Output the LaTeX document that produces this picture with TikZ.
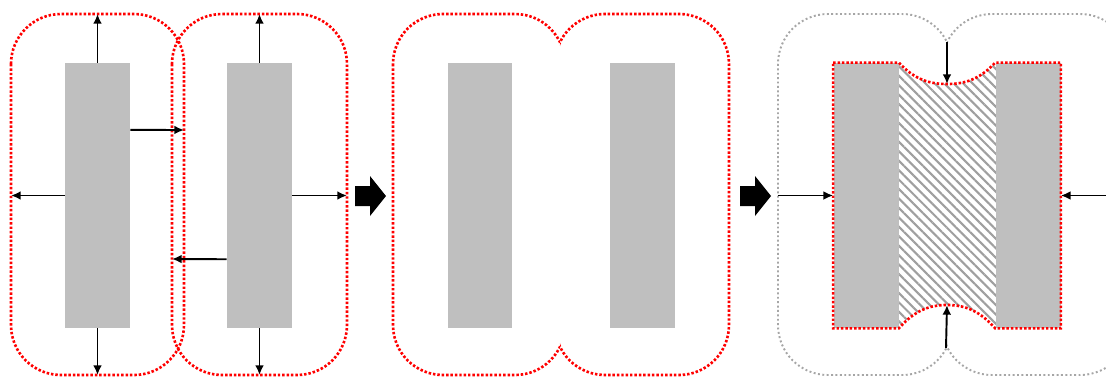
\documentclass[tikz,border=0pt]{standalone}
\usetikzlibrary{arrows.meta,calc,patterns.meta}
\begin{document}
\begin{tikzpicture}[x=0.02cm,y=-0.02cm,
  bar/.style={fill=gray!50,inner sep=0pt,minimum width=1.3cm,minimum height=5.3cm},
  reddots/.style={red,line width=1.5pt,dash pattern=on 1.4pt off 1.1pt},
  greydots/.style={gray!70,line width=1.1pt,dash pattern=on 1.1pt off 1.4pt},
  zone/.style={rounded corners=1cm},
  push/.style={-{Latex[length=5.5pt,width=5pt]},line width=1.1pt}]
\clip (0,0) rectangle (1106,376);
\draw[reddots,zone] (11,14) rectangle (184,375);
\draw[reddots,zone] (172,14) rectangle (347,375);
\node[bar] (b1) at (97.5,195.5) {};
\node[bar] (b2) at (259.5,195.5) {};
\coordinate (t1) at (97.5,14);
\coordinate (d1) at (97.5,375);
\coordinate (l1) at (11,195.5);
\coordinate (r1) at (184,130);
\coordinate (t2) at (259.5,14);
\coordinate (d2) at (259.5,375);
\coordinate (r2) at (347,195.5);
\coordinate (l2) at (172,259);
\draw[push] (b1.north) -- (t1);
\draw[push] (b1.south) -- (d1);
\draw[push] (b1.west) -- (l1);
\draw[push] ($(b1.north east)!0.253!(b1.south east)$) -- (r1);
\draw[push] (b2.north) -- (t2);
\draw[push] (b2.south) -- (d2);
\draw[push] (b2.east) -- (r2);
\draw[push] ($(b2.north west)!0.74!(b2.south west)$) -- (l2);
\fill (355,186) -- (370,186) -- (370,176) -- (386,196) -- (370,216) -- (370,206) -- (355,206) -- cycle;
\begin{scope}
\clip (0,0) rectangle (560,376);
\draw[reddots,zone] (393,14) rectangle (565,375);
\end{scope}
\begin{scope}
\clip (560,0) rectangle (1106,376);
\draw[reddots,zone] (555,14) rectangle (729,375);
\end{scope}
\node[bar] (b3) at (480,195.5) {};
\node[bar] (b4) at (642,195.5) {};
\fill (740,186) -- (755,186) -- (755,176) -- (771,196) -- (755,216) -- (755,206) -- (740,206) -- cycle;
\begin{scope}
\clip (0,0) rectangle (947,376);
\draw[greydots,zone] (778,14) rectangle (952,375);
\end{scope}
\begin{scope}
\clip (947,0) rectangle (1106,376);
\draw[greydots,zone] (942,14) rectangle (1130,375);
\end{scope}
\fill[pattern={Lines[angle=-45,distance=3.8pt,line width=1.2pt]},pattern color=gray!75]
  (898,62) .. controls (915,80) and (930,84) .. (947,84) .. controls (964,84) and (979,80) .. (996,62)
  -- (996,328) .. controls (979,310) and (964,305) .. (947,305) .. controls (930,305) and (915,310) .. (898,328) -- cycle;
\node[bar] (b5) at (866,195.5) {};
\node[bar] (b6) at (1028,195.5) {};
\draw[reddots] (b5.north west) -- (b5.north east) .. controls (915,80) and (930,84) .. (947,84)
  .. controls (964,84) and (979,80) .. (b6.north west) -- (b6.north east) -- (b6.south east)
  -- (b6.south west) .. controls (979,310) and (964,305) .. (947,305)
  .. controls (930,305) and (915,310) .. (b5.south east) -- (b5.south west) -- cycle;
\coordinate (nt) at (947,42);
\coordinate (dip) at (947,84);
\coordinate (nb) at (946,348);
\coordinate (bump) at (947,305);
\coordinate (l3) at (778,195.5);
\coordinate (r3) at (1106,195.5);
\draw[push] (nt) -- (dip);
\draw[push] (nb) -- (bump);
\draw[push] (l3) -- (b5.west);
\draw[push] (r3) -- (b6.east);
\end{tikzpicture}
\end{document}
